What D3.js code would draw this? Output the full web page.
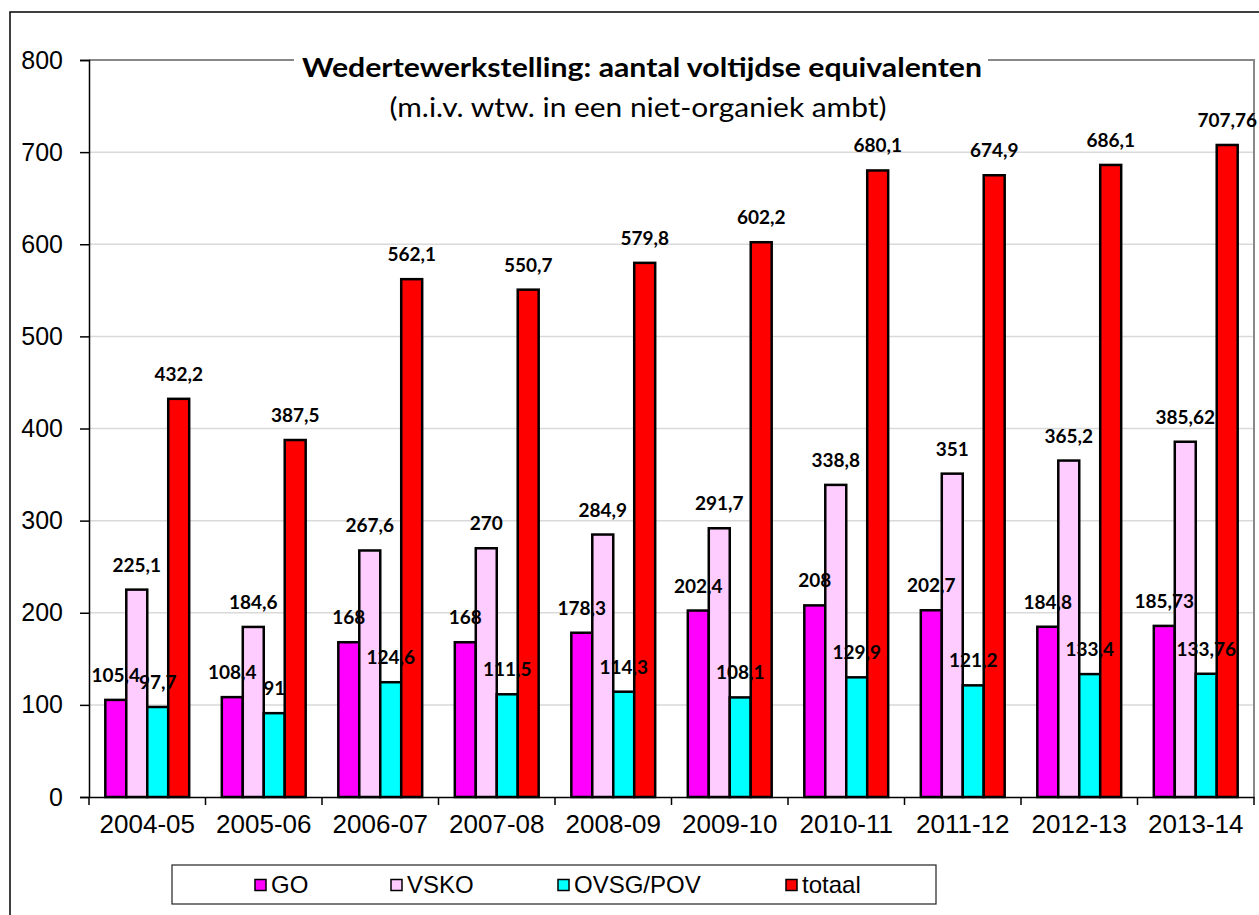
<!DOCTYPE html>
<html>
<head>
<meta charset="utf-8">
<script src="https://cdn.jsdelivr.net/npm/d3@7"></script>
<style>
  body { margin: 0; background: #fff; }
  svg { display: block; }
</style>
</head>
<body>
<svg id="chart"></svg>
<script>
// schooljaren
const years = ["2004-05", "2005-06", "2006-07", "2007-08", "2008-09",
               "2009-10", "2010-11", "2011-12", "2012-13", "2013-14"];
const seriesNames = ["GO", "VSKO", "OVSG/POV", "totaal"];
const go =    [105.4, 108.4, 168, 168, 178.3, 202.4, 208, 202.7, 184.8, 185.73];
const vsko =  [225.1, 184.6, 267.6, 270, 284.9, 291.7, 338.8, 351, 365.2, 385.62];
const ovsg =  [97.7, 91, 124.6, 111.5, 114.3, 108.1, 129.9, 121.2, 133.4, 133.76];
const totaal = [432.2, 387.5, 562.1, 550.7, 579.8, 602.2, 680.1, 674.9, 686.1, 707.76];
const yTicks = [0, 100, 200, 300, 400, 500, 600, 700, 800];

const title = "Wedertewerkstelling: aantal voltijdse equivalenten";
const subtitle = "(m.i.v. wtw. in een niet-organiek ambt)";

const colors = { "GO": "#ff00ff", "VSKO": "#ffccff", "OVSG/POV": "#00ffff", "totaal": "#ff0000" };
const seriesValues = { "GO": go, "VSKO": vsko, "OVSG/POV": ovsg, "totaal": totaal };

const W = 1259, H = 915;
const plot = { left: 89, right: 1254, top: 60, bottom: 797 };
const arial = "'Liberation Sans', Arial, sans-serif";
const calibri = "Lato, 'Open Sans', sans-serif";

const svg = d3.select("#chart").attr("width", W).attr("height", H);

// outer frame
svg.append("rect")
    .attr("x", 10).attr("y", 12)
    .attr("width", W + 20).attr("height", H + 20)
    .attr("fill", "#fff").attr("stroke", "#000").attr("stroke-width", 1.5);

const x0 = d3.scaleBand().domain(years).range([plot.left, plot.right]);
const gapHalf = x0.bandwidth() * 0.14;
const x1 = d3.scaleBand().domain(seriesNames).range([gapHalf, x0.bandwidth() - gapHalf]);
const y = d3.scaleLinear().domain([0, 800]).range([plot.bottom, plot.top]);

// gridlines
svg.append("g")
    .selectAll("line")
    .data(yTicks.filter(d => d > 0 && d < 800))
    .join("line")
    .attr("x1", plot.left).attr("x2", plot.right)
    .attr("y1", d => y(d)).attr("y2", d => y(d))
    .attr("stroke", "#d9d9d9").attr("stroke-width", 1.5);

// plot area border (top + right, grey)
svg.append("path")
    .attr("d", `M${plot.left},${plot.top}H${plot.right}V${plot.bottom}`)
    .attr("fill", "none").attr("stroke", "#888").attr("stroke-width", 2);

// y axis
const yAxis = d3.axisLeft(y).tickValues(yTicks).tickSize(9).tickPadding(17);
const gy = svg.append("g").attr("transform", `translate(${plot.left},0)`).call(yAxis);
gy.select(".domain").attr("stroke", "#000").attr("stroke-width", 1.5);
gy.selectAll(".tick line").attr("stroke", "#000").attr("stroke-width", 1.5);
gy.selectAll(".tick text")
    .attr("font-family", arial)
    .attr("font-size", 25).attr("fill", "#000");

// x axis
const gx = svg.append("g").attr("transform", `translate(0,${plot.bottom})`)
    .call(d3.axisBottom(x0).tickSize(0).tickPadding(18));
gx.select(".domain").attr("stroke", "#000").attr("stroke-width", 1.5);
gx.selectAll(".tick text")
    .attr("font-family", arial)
    .attr("font-size", 26).attr("fill", "#000");
gx.append("g")
    .selectAll("line")
    .data(years.concat(["end"]))
    .join("line")
    .attr("x1", (d, i) => plot.left + i * x0.step())
    .attr("x2", (d, i) => plot.left + i * x0.step())
    .attr("y1", 0).attr("y2", 8)
    .attr("stroke", "#000").attr("stroke-width", 1.5);

// bars
const groups = svg.append("g")
    .selectAll("g")
    .data(years)
    .join("g")
    .attr("transform", d => `translate(${x0(d)},0)`);

const cellData = (d, i) => seriesNames.map(s => ({ series: s, value: seriesValues[s][i] }));

groups.selectAll("rect")
    .data(cellData)
    .join("rect")
    .attr("x", d => x1(d.series))
    .attr("y", d => y(d.value))
    .attr("width", x1.bandwidth())
    .attr("height", d => y(0) - y(d.value))
    .attr("fill", d => colors[d.series])
    .attr("stroke", "#000").attr("stroke-width", 2.5);

// value labels
groups.selectAll("text.val")
    .data(cellData)
    .join("text")
    .attr("class", "val")
    .attr("x", d => x1(d.series) + x1.bandwidth() / 2)
    .attr("y", d => y(d.value) - 18)
    .attr("text-anchor", "middle")
    .attr("font-family", calibri)
    .attr("font-weight", "bold")
    .attr("font-size", 19)
    .attr("fill", "#000")
    .text(d => String(d.value).replace(".", ","));

// title with white backing over the top border
svg.append("rect")
    .attr("x", 294).attr("y", 52).attr("width", 694).attr("height", 16)
    .attr("fill", "#fff");
svg.append("text")
    .attr("x", 642).attr("y", 77)
    .attr("text-anchor", "middle")
    .attr("font-family", calibri)
    .attr("font-weight", "bold")
    .attr("font-size", 26)
    .attr("textLength", 680).attr("lengthAdjust", "spacingAndGlyphs")
    .text(title);
svg.append("text")
    .attr("x", 638).attr("y", 117)
    .attr("text-anchor", "middle")
    .attr("font-family", calibri)
    .attr("font-size", 26)
    .attr("textLength", 497).attr("lengthAdjust", "spacingAndGlyphs")
    .text(subtitle);

// legend
const legendX = [255, 391, 558, 786];
const legend = svg.append("g");
legend.append("rect")
    .attr("x", 172).attr("y", 865).attr("width", 764).attr("height", 39)
    .attr("fill", "#fff").attr("stroke", "#222").attr("stroke-width", 1.2);
const items = legend.selectAll("g.item")
    .data(seriesNames)
    .join("g")
    .attr("class", "item")
    .attr("transform", (d, i) => `translate(${legendX[i]},885)`);
items.append("rect")
    .attr("x", 0).attr("y", -5.5).attr("width", 11).attr("height", 11)
    .attr("fill", d => colors[d]).attr("stroke", "#000").attr("stroke-width", 1.5);
items.append("text")
    .attr("x", 16).attr("y", 8)
    .attr("font-family", arial)
    .attr("font-size", 24)
    .attr("fill", "#000")
    .text(d => d);
</script>
</body>
</html>
